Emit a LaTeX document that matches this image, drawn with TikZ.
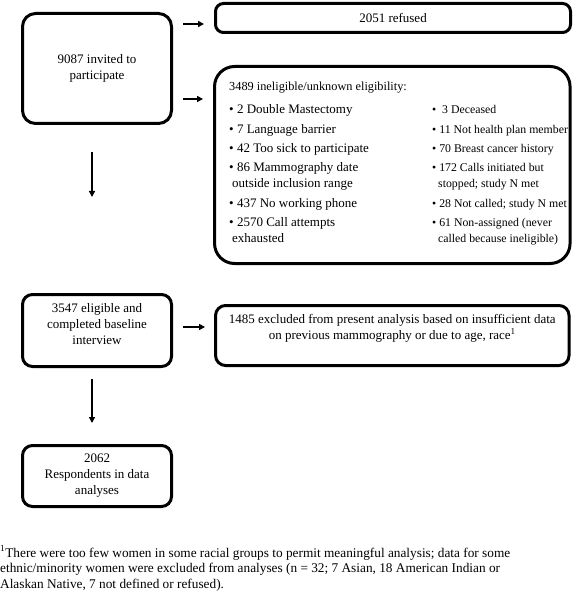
\documentclass[tikz,border=0pt]{standalone}
\usepackage{fontspec}
\setmainfont{Liberation Serif}
\usetikzlibrary{arrows.meta}
\newcommand\fsz{\fontsize{13}{16}\selectfont}
\newcommand\rsz{\fontsize{11.8}{16}\selectfont}
\newcommand\tsz{\fontsize{12.3}{16}\selectfont}
\newcommand\fnsz{\fontsize{13.3}{15.5}\selectfont}
\begin{document}
\begin{tikzpicture}[x=1pt,y=-1pt,
  box/.style={draw, line width=3pt, rounded corners=#1, inner sep=0pt, align=center, font=\fsz},
  box/.default=10pt,
  arr/.style={line width=2pt, -{Triangle[length=6pt,width=6pt]}},
  txt/.style={inner sep=0pt, align=center, font=\fsz},
  item/.style={inner sep=0pt, anchor=base west, align=left, font=\fsz},
  ritem/.style={item, font=\rsz}]
\useasboundingbox (0,0) rectangle (574,593);

% boxes
\node[box=13pt, minimum width=149pt, minimum height=110pt] (inv) at (97,68.5) {9087 invited to\\participate};
\node[box=8pt, minimum width=355pt, minimum height=29pt] (ref) at (393,18) {2051 refused};
\node[box=20pt, minimum width=355.5pt, minimum height=197pt] (inel) at (392.3,165) {};
\node[box=10pt, minimum width=149pt, minimum height=72pt] (elig) at (97,330.5) {};
\node[txt] (eligt) at (97,324) {3547 eligible and\\completed baseline\\interview};
\node[box=10pt, minimum width=353.5pt, minimum height=60pt] (excl) at (392.3,335.5) {};
\node[txt] (exclt) at (392.3,328) {1485 excluded from present analysis based on insufficient data\\on previous mammography or due to age, race\textsuperscript{1}};
\node[box=10pt, minimum width=149pt, minimum height=61pt] (resp) at (97,476) {2062\\Respondents in data\\analyses};

% ineligible contents (base anchor = baseline of last line)
\node[item, font=\tsz] (t0) at (229,91) {3489 ineligible/unknown eligibility:};
\node[item] (l1) at (229,114) {\textbullet\ 2 Double Mastectomy};
\node[item] (l2) at (229,134) {\textbullet\ 7 Language barrier};
\node[item] (l3) at (229,153) {\textbullet\ 42 Too sick to participate};
\node[item] (l4) at (229,188) {\textbullet\ 86 Mammography date\\\hspace*{3pt}outside inclusion range};
\node[item] (l5) at (229,208) {\textbullet\ 437 No working phone};
\node[item] (l6) at (229,243) {\textbullet\ 2570 Call attempts\\\hspace*{3pt}exhausted};
\node[ritem] (r1) at (432,114) {\textbullet\ \ 3 Deceased};
\node[ritem] (r2) at (432,134) {\textbullet\ 11 Not health plan member};
\node[ritem] (r3) at (432,153) {\textbullet\ 70 Breast cancer history};
\node[ritem] (r4) at (432,188) {\textbullet\ 172 Calls initiated but\\\hspace*{6pt}stopped; study N met};
\node[ritem] (r5) at (432,208) {\textbullet\ 28 Not called; study N met};
\node[ritem] (r6) at (432,243) {\textbullet\ 61 Non-assigned (never\\\hspace*{6pt}called because ineligible)};

% footnote
\node[inner sep=0pt, anchor=base west, align=left, font=\fnsz] (fn) at (0,588)
  {\textsuperscript{1}There were too few women in some racial groups to permit meaningful analysis; data for some\\
   ethnic/minority women were excluded from analyses (n = 32; 7 Asian, 18 American Indian or\\
   Alaskan Native, 7 not defined or refused).};

% connectors
\coordinate (ya) at (0,24);
\coordinate (yb) at (0,99);
\coordinate (yc) at (0,327);
\draw[arr, shorten <=10pt, shorten >=10pt] (inv.east |- ya) -- (ref.west |- ya);
\draw[arr, shorten <=10pt, shorten >=10pt] (inv.east |- yb) -- (inel.west |- yb);
\draw[arr, shorten <=10pt, shorten >=9pt] (elig.east |- yc) -- (excl.west |- yc);
\draw[arr, shorten <=27pt, shorten >=96pt] ([xshift=-5pt]inv.south) -- ([xshift=-5pt]elig.north);
\draw[arr, shorten <=11pt, shorten >=21pt] ([xshift=-5pt]elig.south) -- ([xshift=-5pt]resp.north);
\end{tikzpicture}
\end{document}
